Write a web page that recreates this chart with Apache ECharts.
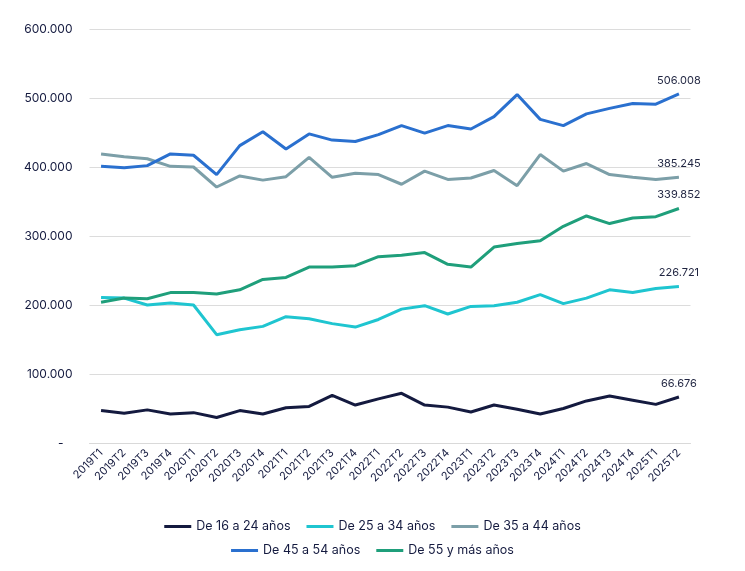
<!DOCTYPE html>
<html><head><meta charset="utf-8">
<script src="https://cdn.jsdelivr.net/npm/echarts@6/dist/echarts.min.js"></script>
<style>html,body{margin:0;padding:0;background:#fff}#c{width:745px;height:571px}</style>
</head><body><div id="c"></div>
<script>
const categories = ['2019T1','2019T2','2019T3','2019T4','2020T1','2020T2','2020T3','2020T4','2021T1','2021T2','2021T3','2021T4','2022T1','2022T2','2022T3','2022T4','2023T1','2023T2','2023T3','2023T4','2024T1','2024T2','2024T3','2024T4','2025T1','2025T2'];
const s16_24 = [47000,43000,48000,42000,44000,37000,47000,42000,51000,53000,69000,55000,64000,72000,55000,52000,45000,55000,49000,42000,50000,61000,68000,62000,56000,66676];
const s25_34 = [211000,210000,200000,203000,200000,157000,164000,169000,183000,180000,173000,168000,179000,194000,199000,187000,198000,199000,204000,215000,202000,210000,222000,218000,224000,226721];
const s35_44 = [419000,415000,412000,401000,400000,371000,387000,381000,386000,414000,385000,391000,389000,375000,394000,382000,384000,395000,373000,418000,394000,405000,389000,385000,382000,385245];
const s45_54 = [401000,399000,402000,419000,417000,389000,431000,451000,426000,448000,439000,437000,447000,460000,449000,460000,455000,473000,505000,469000,460000,477000,485000,492000,491000,506008];
const s55 = [204000,210000,209000,218000,218000,216000,222000,237000,240000,255000,255000,257000,270000,272000,276000,259000,255000,284000,289000,293000,314000,329000,318000,326000,328000,339852];
const seriesNames = ['De 16 a 24 años','De 25 a 34 años','De 35 a 44 años','De 45 a 54 años','De 55 y más años'];
const colors = ['#141a3f','#1fc5d0','#7c9fa8','#2a70cf','#1f9f7b'];
const yTicks = ['-','100.000','200.000','300.000','400.000','500.000','600.000'];

const fmt = v => v.toLocaleString('de-DE');
const dataSets = [s16_24, s25_34, s35_44, s45_54, s55];
const font = 'Inter, "Noto Sans", sans-serif';
const legendBase = {
  left:'center', itemWidth:27, itemHeight:3, itemGap:16, icon:'rect',
  textStyle:{color:'#141a3f', fontSize:12.5, fontFamily:font}
};

const chart = echarts.init(document.getElementById('c'), null, {renderer:'canvas'});
chart.setOption({
  animation:false,
  color: colors,
  grid:{left:89.5, right:54.5, top:29, bottom:128, containLabel:false},
  legend:[
    Object.assign({data: seriesNames.slice(0,3), top:515}, legendBase),
    Object.assign({data: seriesNames.slice(3), top:539}, legendBase)
  ],
  xAxis:{
    type:'category', data:categories, boundaryGap:true,
    axisLine:{lineStyle:{color:'#d9d9d9'}}, axisTick:{show:false},
    axisLabel:{rotate:45, interval:0, color:'#141a3f', fontSize:11, fontFamily:font, margin:8}
  },
  yAxis:{
    type:'value', min:0, max:600000, interval:100000,
    axisLine:{show:false}, axisTick:{show:false},
    splitLine:{lineStyle:{color:'#dcdcdc', width:1}},
    axisLabel:{
      color:'#141a3f', fontSize:12, fontFamily:font, margin:17,
      formatter:(v)=>{ const t = yTicks[Math.round(v/100000)]; return t==='-' ? '{d|-}' : t; },
      rich:{d:{padding:[0,9,0,0], color:'#141a3f', fontSize:12, fontFamily:font}}
    }
  },
  series: dataSets.map((d,i)=>({
    name: seriesNames[i], type:'line', data:d, symbol:'circle', symbolSize:0.01, showSymbol:true,
    itemStyle:{color:colors[i]},
    emphasis:{disabled:true},
    lineStyle:{width:3, color:colors[i]},
    labelLayout:{hideOverlap:false},
    label:{show:true, position:'top', distance:8, color:'#1f2440', fontSize:11, fontFamily:font,
      formatter:(p)=> p.dataIndex===d.length-1 ? fmt(p.value) : ''}
  }))
});
</script></body></html>
